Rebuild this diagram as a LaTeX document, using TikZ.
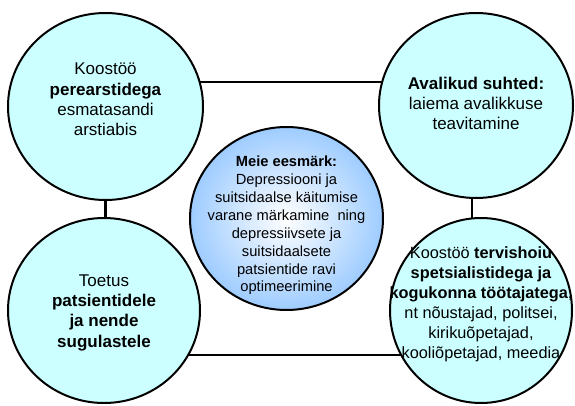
\documentclass[tikz,border=0pt]{standalone}
\usepackage{fontspec}
\setmainfont{Liberation Sans}
\definecolor{mycyan}{RGB}{204,255,255}
\definecolor{myblue}{RGB}{158,204,255}
\usetikzlibrary{shapes.geometric,backgrounds}

\begin{document}
\begin{tikzpicture}[x=1pt,y=1pt,
    every node/.style={ellipse,draw,line width=2pt,inner sep=0pt},
    side/.style={fill=mycyan},
    goal/.style={inner color=white,outer color=myblue},
    txt/.style={draw=none,fill=none,rectangle,align=center,
      font=\fontsize{17}{20.3}\selectfont},
    link/.style={line width=2.2pt}
    ]
    \useasboundingbox (0,0) rectangle (575,405);

    % the four side circles
    \node[side,minimum width=195pt,minimum height=187pt,
      label={[txt,yshift=7pt]center:Koostöö\\ \textbf{perearstidega}\\ esmatasandi\\ arstiabis}]
      (tl) at (105.5,298.5) {};
    \node[side,minimum width=194pt,minimum height=185pt,
      label={[txt,yshift=2pt]center:\textbf{Avalikud suhted:}\\ laiema avalikkuse\\ teavitamine}]
      (tr) at (476,299.5) {};
    \node[side,minimum width=192pt,minimum height=185pt,
      label={[txt,yshift=-2pt]center:Toetus\\ \textbf{patsientidele}\\ \textbf{ja nende}\\ \textbf{sugulastele}}]
      (bl) at (104,94.5) {};
    \node[side,minimum width=182pt,minimum height=185pt,
      label={[txt,yshift=6.5pt,font=\fontsize{16.3}{20}\selectfont]center:Koostöö \textbf{tervishoiu}\\
        \textbf{spetsialistidega ja}\\ \textbf{kogukonna töötajatega},\\
        nt nõustajad, politsei,\\ kirikuõpetajad,\\ kooliõpetajad, meedia}]
      (br) at (481,94.5) {};

    % the goal in the middle
    \node[goal,minimum width=193pt,minimum height=183pt,
      label={[txt,yshift=-7pt,font=\fontsize{14.7}{17.9}\selectfont]center:\textbf{Meie eesmärk:}\\
        Depressiooni ja\\ suitsidaalse käitumise\\ varane märkamine\ \ ning\\
        depressiivsete ja\\ suitsidaalsete\\ patsientide ravi\\ optimeerimine}]
      (goal) at (286.5,186.5) {};

    % the links
    \begin{scope}[on background layer]
    \draw[link] ([yshift=24.5pt]tl.center) -- ([yshift=24.5pt]tl.center -| tr.center);
    \draw[link] (tl.center) -- (tl.center |- bl.center);
    \draw[link] ([xshift=-4.3pt]tr.center) -- ([xshift=-4.3pt]tr.center |- br.center);
    \draw[link] ([yshift=-44.5pt]bl.center) -- ([yshift=-44.5pt]bl.center -| br.center);
    \end{scope}
    \end{tikzpicture}
\end{document}
